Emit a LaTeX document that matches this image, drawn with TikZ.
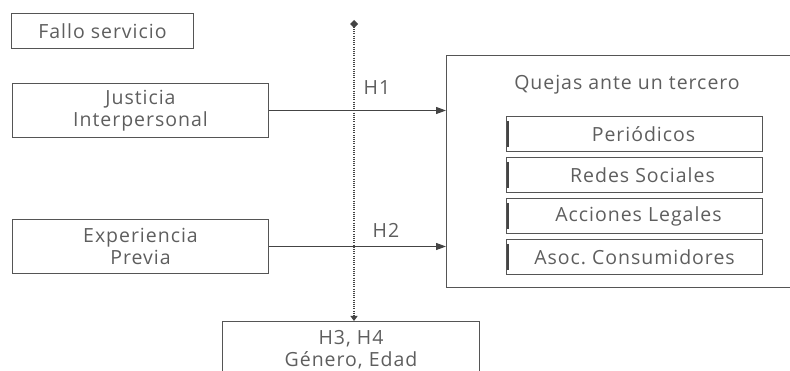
\documentclass[tikz,border=0pt]{standalone}
\usepackage{fontspec}
\setmainfont{Open Sans}[LetterSpace=5]
\usetikzlibrary{arrows.meta}
\definecolor{tx}{HTML}{5E5E5E}
\definecolor{ln}{HTML}{555555}
\definecolor{ar}{HTML}{444444}
\begin{document}
\begin{tikzpicture}[x=1pt,y=-1pt,
  box/.style={draw=ln, line width=1pt, text=tx, font=\fontsize{19.5}{22}\selectfont,
    align=center, inner sep=0pt, anchor=north west},
  sub/.style={box, minimum width=256pt, minimum height=35pt},
  lbl/.style={text=tx, font=\fontsize{19.5}{22}\selectfont, inner sep=0pt},
  arr/.style={draw=ar, line width=1.2pt, -{Triangle[length=10pt,width=7pt]}},
  dots/.style={draw=ar, line width=1.8pt, dash pattern=on 1.1pt off 1.1pt,
    {Diamond[length=8pt,width=8pt]}-{Triangle[length=5pt,width=7pt]}},
  bar/.style={draw=ar, line width=2pt}]
\useasboundingbox (0,0) rectangle (790,371);
\node[box, minimum width=182pt, minimum height=35pt] (fallo) at (11,13) {Fallo servicio};
\node[box, minimum width=256pt, minimum height=54pt] (just) at (12,83) {Justicia\\Interpersonal};
\node[box, minimum width=256pt, minimum height=54pt] (exp) at (12,219) {Experiencia\\Previa};
\node[box, minimum width=350pt, minimum height=232pt] (quejas) at (446,55) {};
\node[lbl] (qlabel) at (627,85) {Quejas ante un tercero};
\node[sub] (per) at (506,116) {\hspace*{18pt}Periódicos};
\node[sub] (red) at (506,157) {\hspace*{16pt}Redes Sociales};
\node[sub] (acc) at (506,198) {\hspace*{8pt}Acciones Legales};
\node[sub] (aso) at (506,239) {Asoc.\hspace{-2pt} Consumidores};
\foreach \n in {per,red,acc,aso}{
  \draw[bar] ([shift={(2,5)}]\n.north west) -- ([shift={(2,-5)}]\n.south west);
}
\node[box, minimum width=257pt, minimum height=56pt] (mod) at (222,321) {H3, H4\\Género, Edad};
\coordinate (top) at (354,20);
\draw[dots] (top) -- (top |- mod.north);
\draw[arr] (just.east) -- (just.east -| quejas.west);
\draw[arr] (exp.east) -- (exp.east -| quejas.west);
\node[lbl] (h1) at (377,88) {H1};
\node[lbl] (h2) at (386,230) {H2};
\end{tikzpicture}
\end{document}
